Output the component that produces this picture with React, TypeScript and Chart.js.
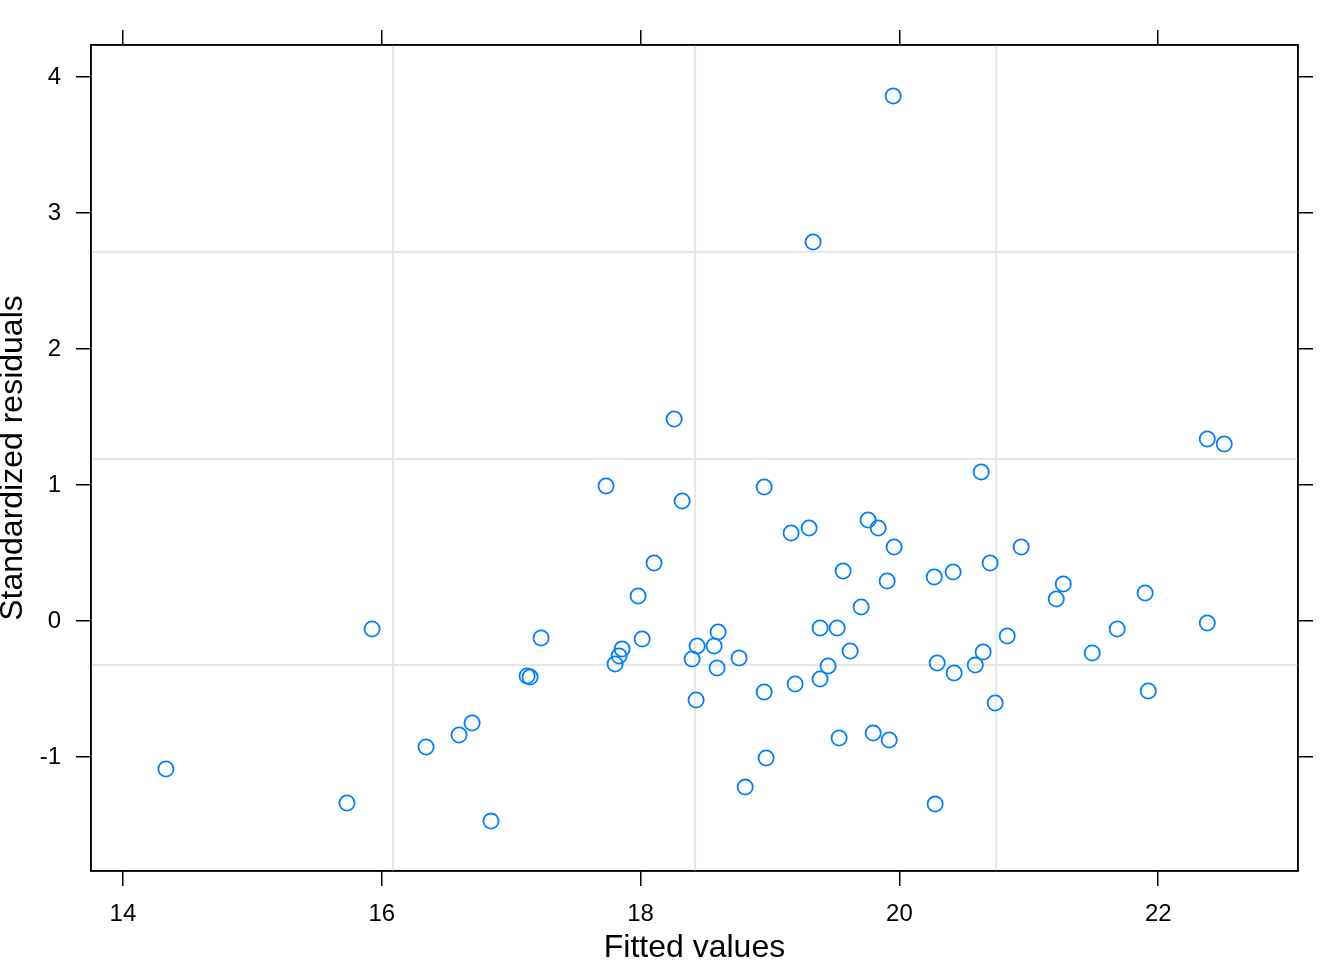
import React, { useEffect, useRef } from "react";
import { Chart, registerables } from "chart.js";

Chart.register(...registerables);

const fittedValues = [
  14.332, 15.731, 15.925, 16.342, 16.597, 16.698, 16.844, 17.123, 17.146, 17.231,
  17.733, 17.803, 17.834, 17.857, 17.981, 18.012, 18.104, 18.259, 18.321, 18.398,
  18.437, 18.429, 18.568, 18.591, 18.599, 18.761, 18.808, 18.955, 18.955, 18.97,
  19.163, 19.194, 19.302, 19.333, 19.387, 19.387, 19.449, 19.519, 19.534, 19.565,
  19.619, 19.704, 19.758, 19.797, 19.836, 19.905, 19.921, 19.952, 19.959, 20.269,
  20.276, 20.292, 20.415, 20.423, 20.586, 20.632, 20.647, 20.701, 20.74, 20.833,
  20.941, 21.212, 21.266, 21.49, 21.683, 21.899, 21.923, 22.379, 22.379, 22.51,
];

const stdResiduals = [
  -1.088, -1.338, -0.059, -0.926, -0.838, -0.75, -1.471, -0.404, -0.412, -0.125,
  0.993, -0.316, -0.257, -0.206, 0.184, -0.132, 0.426, 1.485, 0.882, -0.279,
  -0.184, -0.581, -0.184, -0.346, -0.081, -0.272, -1.221, -0.522, 0.985, -1.007,
  0.647, -0.463, 0.684, 2.787, -0.051, -0.426, -0.331, -0.051, -0.86, 0.368,
  -0.221, 0.103, 0.743, -0.824, 0.684, 0.294, -0.875, 3.86, 0.544, 0.324,
  -1.346, -0.309, 0.36, -0.382, -0.324, 1.096, -0.228, 0.426, -0.603, -0.11,
  0.544, 0.162, 0.272, -0.235, -0.059, 0.206, -0.515, 1.338, -0.015, 1.301,
];

const xTicks = [14, 16, 18, 20, 22];
const yTicks = [-1, 0, 1, 2, 3, 4];
const refLinesX = [16.087, 18.421, 20.748];
const refLinesY = [2.713, 1.191, -0.324];

const X_MIN = 13.753;
const X_MAX = 23.08;
const Y_MIN = -1.838;
const Y_MAX = 4.235;

const FONT = "'Liberation Sans', Arial, Helvetica, sans-serif";

const refLinePlugin = {
  id: "refLines",
  beforeDatasetsDraw(chart: any) {
    const { ctx, chartArea, scales } = chart;
    ctx.save();
    ctx.strokeStyle = "#e6e6e6";
    ctx.lineWidth = 2;
    for (const v of refLinesX) {
      const px = scales.x.getPixelForValue(v);
      ctx.beginPath();
      ctx.moveTo(px, chartArea.top);
      ctx.lineTo(px, chartArea.bottom);
      ctx.stroke();
    }
    for (const v of refLinesY) {
      const py = scales.y.getPixelForValue(v);
      ctx.beginPath();
      ctx.moveTo(chartArea.left, py);
      ctx.lineTo(chartArea.right, py);
      ctx.stroke();
    }
    ctx.restore();
  },
  afterDatasetsDraw(chart: any) {
    const { ctx, chartArea } = chart;
    ctx.save();
    ctx.strokeStyle = "#000";
    ctx.lineWidth = 1.5;
    ctx.strokeRect(
      chartArea.left,
      chartArea.top,
      chartArea.right - chartArea.left,
      chartArea.bottom - chartArea.top
    );
    ctx.restore();
  },
};

function axisGrid() {
  return {
    drawOnChartArea: false,
    drawTicks: true,
    tickLength: 15,
    color: "#000",
    lineWidth: 1.5,
  };
}

export default function App() {
  const canvasRef = useRef<HTMLCanvasElement | null>(null);

  useEffect(() => {
    if (!canvasRef.current) return;
    const points = fittedValues.map((x, i) => ({ x, y: stdResiduals[i] }));
    const setX = (s: any) => {
      s.ticks = xTicks.map((v) => ({ value: v }));
    };
    const setY = (s: any) => {
      s.ticks = yTicks.map((v) => ({ value: v }));
    };
    const chart = new Chart(canvasRef.current, {
      type: "scatter",
      data: {
        datasets: [
          {
            data: points,
            pointStyle: "circle",
            pointRadius: 7.6,
            pointHoverRadius: 7.6,
            pointBorderWidth: 1.8,
            borderColor: "#0080ff",
            backgroundColor: "rgba(0,0,0,0)",
          },
        ],
      },
      options: {
        animation: false,
        responsive: false,
        devicePixelRatio: 1,
        layout: { padding: 0 },
        plugins: {
          legend: { display: false },
          tooltip: { enabled: false },
        },
        scales: {
          x: {
            type: "linear",
            position: "bottom",
            min: X_MIN,
            max: X_MAX,
            afterBuildTicks: setX,
            afterFit: (s: any) => {
              s.height = 89;
            },
            grid: axisGrid(),
            border: { display: true, color: "#000", width: 1.5 },
            ticks: {
              color: "#000",
              font: { family: FONT, size: 24 },
              padding: 14,
              maxRotation: 0,
            },
            title: {
              display: true,
              text: "Fitted values",
              color: "#000",
              font: { family: FONT, size: 32, lineHeight: 0.75 },
              padding: 0,
            },
          },
          x2: {
            type: "linear",
            position: "top",
            min: X_MIN,
            max: X_MAX,
            afterBuildTicks: setX,
            afterFit: (s: any) => {
              s.height = 45;
            },
            grid: axisGrid(),
            border: { display: true, color: "#000", width: 1.5 },
            ticks: { display: false },
          },
          y: {
            type: "linear",
            position: "left",
            min: Y_MIN,
            max: Y_MAX,
            afterBuildTicks: setY,
            afterFit: (s: any) => {
              s.width = 91;
            },
            grid: axisGrid(),
            border: { display: true, color: "#000", width: 1.5 },
            ticks: {
              color: "#000",
              font: { family: FONT, size: 24 },
              padding: 15,
            },
            title: {
              display: true,
              text: "Standardized residuals",
              color: "#000",
              font: { family: FONT, size: 32, lineHeight: 0.8 },
              padding: 0,
            },
          },
          y2: {
            type: "linear",
            position: "right",
            min: Y_MIN,
            max: Y_MAX,
            afterBuildTicks: setY,
            afterFit: (s: any) => {
              s.width = 46;
            },
            grid: axisGrid(),
            border: { display: true, color: "#000", width: 1.5 },
            ticks: { display: false },
          },
        },
      },
      plugins: [refLinePlugin],
    } as any);
    return () => chart.destroy();
  }, []);

  return (
    <div style={{ position: "absolute", left: 0, top: 0, width: 1344, height: 960, background: "#fff" }}>
      <canvas ref={canvasRef} width={1344} height={960} style={{ width: 1344, height: 960 }} />
    </div>
  );
}
